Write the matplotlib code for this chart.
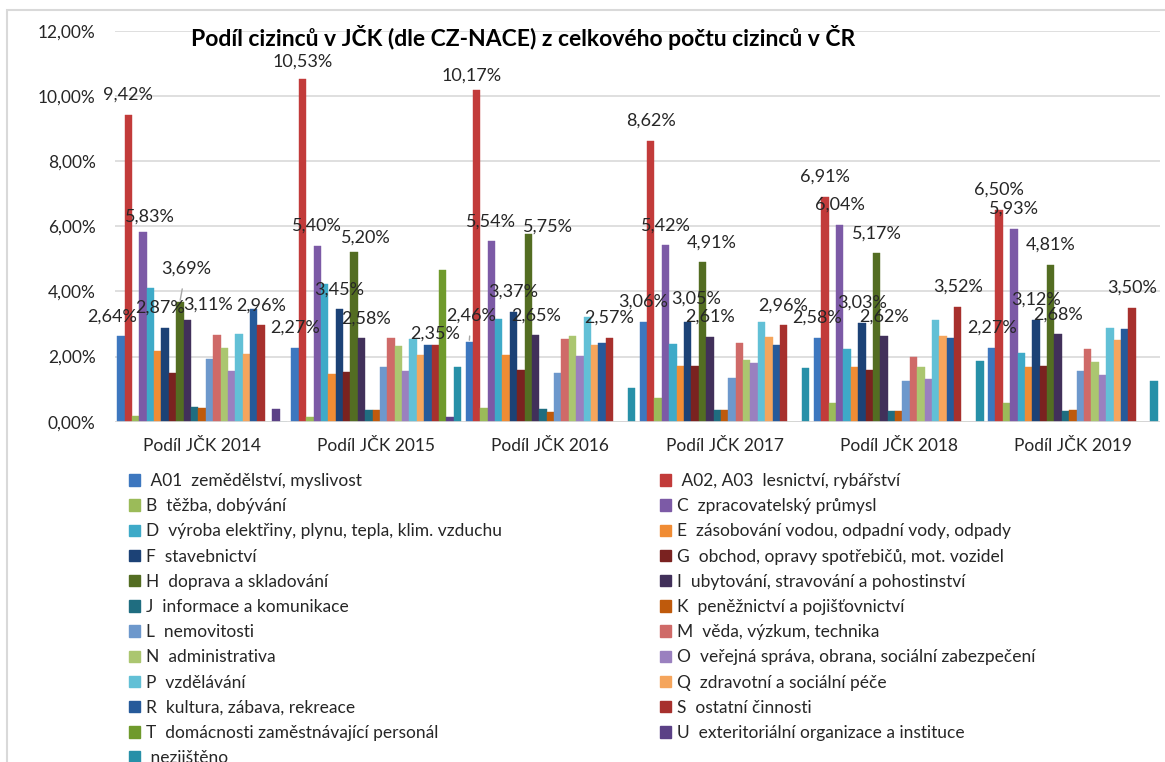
import matplotlib
matplotlib.use("Agg")
import matplotlib.pyplot as plt
from matplotlib.patches import Patch, Rectangle
from matplotlib.ticker import FuncFormatter

plt.rcParams['font.family'] = ['Lato', 'DejaVu Sans']

# categories (x axis) and series (legend)
years = ["Podíl JČK 2014", "Podíl JČK 2015", "Podíl JČK 2016",
         "Podíl JČK 2017", "Podíl JČK 2018", "Podíl JČK 2019"]

codes = ["A01", "A02", "B", "C", "D", "E", "F", "G", "H", "I", "J", "K",
         "L", "M", "N", "O", "P", "Q", "R", "S", "T", "U", "nez"]

names = [" A01  zemědělství, myslivost",
         " A02, A03  lesnictví, rybářství",
         "B  těžba, dobývání",
         "C  zpracovatelský průmysl",
         "D  výroba elektřiny, plynu, tepla, klim. vzduchu",
         "E  zásobování vodou, odpadní vody, odpady",
         "F  stavebnictví",
         "G  obchod, opravy spotřebičů, mot. vozidel",
         "H  doprava a skladování",
         "I  ubytování, stravování a pohostinství",
         "J  informace a komunikace",
         "K  peněžnictví a pojišťovnictví",
         "L  nemovitosti",
         "M  věda, výzkum, technika",
         "N  administrativa",
         "O  veřejná správa, obrana, sociální zabezpečení",
         "P  vzdělávání",
         "Q  zdravotní a sociální péče",
         "R  kultura, zábava, rekreace",
         "S  ostatní činnosti",
         "T  domácnosti zaměstnávající personál",
         "U  exteritoriální organizace a instituce",
         " nezjištěno"]

# shares in %, 2014..2019
A01 = [2.64, 2.27, 2.46, 3.06, 2.58, 2.27]
A02 = [9.42, 10.53, 10.17, 8.62, 6.91, 6.50]
B = [0.19, 0.15, 0.42, 0.73, 0.56, 0.56]
C = [5.83, 5.40, 5.54, 5.42, 6.04, 5.93]
D = [4.10, 4.24, 3.16, 2.39, 2.24, 2.11]
E = [2.16, 1.48, 2.06, 1.72, 1.67, 1.67]
F = [2.87, 3.45, 3.37, 3.05, 3.03, 3.12]
G = [1.50, 1.54, 1.60, 1.72, 1.60, 1.71]
H = [3.69, 5.20, 5.75, 4.91, 5.17, 4.81]
I = [3.11, 2.58, 2.65, 2.61, 2.62, 2.68]
J = [0.46, 0.37, 0.39, 0.35, 0.32, 0.32]
K = [0.42, 0.37, 0.30, 0.35, 0.32, 0.35]
L = [1.93, 1.68, 1.50, 1.35, 1.25, 1.57]
M = [2.66, 2.56, 2.55, 2.42, 2.00, 2.22]
N = [2.27, 2.32, 2.63, 1.88, 1.68, 1.83]
O = [1.57, 1.57, 2.03, 1.81, 1.32, 1.42]
P = [2.70, 2.54, 3.22, 3.05, 3.12, 2.88]
Q = [2.09, 2.06, 2.35, 2.59, 2.63, 2.51]
R = [3.46, 2.37, 2.42, 2.34, 2.56, 2.85]
S = [2.96, 2.35, 2.57, 2.96, 3.52, 3.50]
T = [0, 4.65, 0, 0, 0, 0]
U = [0.39, 0.15, 0, 0, 0, 0]
nez = [0, 1.68, 1.04, 1.64, 1.87, 1.24]

series = [A01, A02, B, C, D, E, F, G, H, I, J, K, L, M, N, O, P, Q, R, S, T, U, nez]

colors = ["#3d77bf", "#c23b3a", "#9bbb59", "#7c5aa6", "#3eaac8", "#f08c34",
          "#1c4276", "#7a2220", "#536d22", "#41305a", "#1f6d80", "#bf5a0c",
          "#6d98cc", "#cf6a68", "#abc670", "#9a80bf", "#62c0d6", "#f5a55c",
          "#265a9a", "#a7302d", "#6f9a2c", "#5b4186", "#2790a8"]

# only these series carry data labels
labelled = ["A01", "A02", "C", "F", "H", "I", "S"]
# manual label nudges (pixels), default is straight above the bar
nudge = {(0, "A01"): (-9, 19), (0, "C"): (7, 15), (0, "F"): (-5, 21),
         (0, "H"): (6, 33), (0, "I"): (21, 16),
         (1, "A02"): (0, 17), (1, "H"): (12, 15), (1, "I"): (5, 19), (1, "S"): (0, 12),
         (2, "A01"): (2, 26), (2, "A02"): (-5, 15), (2, "H"): (20, 8),
         (3, "F"): (8, 24), (3, "H"): (9, 19)}
leader = [(0, "H"), (2, "A01")]

W, Hh = 1165, 762
fig = plt.figure(figsize=(W / 100, Hh / 100), dpi=100)
ax = fig.add_axes([115 / W, 1 - 421.7 / Hh, 1045 / W, (421.7 - 30.9) / Hh])

n = len(series)
bw = 7.38 / 174.17
for k, vals in enumerate(series):
    xs = [g + (k - (n - 1) / 2) * bw for g in range(len(years))]
    bars = ax.bar(xs, vals, width=bw, color=colors[k], edgecolor=colors[k],
                  linewidth=0.3, zorder=3)
    if codes[k] in labelled:
        for g, (bar, v) in enumerate(zip(bars, vals)):
            dx, dy = nudge.get((g, codes[k]), (0, 20))
            txt = f"{v:.2f}%".replace(".", ",")
            xy = (bar.get_x() + bar.get_width() / 2, v)
            if (g, codes[k]) in leader:
                ax.annotate(txt, xy, xytext=(dx, dy), textcoords="offset pixels",
                            ha="center", va="center", fontsize=13, color="#262626",
                            arrowprops=dict(arrowstyle="-", color="#a6a6a6", lw=1,
                                            shrinkA=7, shrinkB=1), zorder=5)
            else:
                ax.annotate(txt, xy, xytext=(dx, dy), textcoords="offset pixels",
                            ha="center", va="center", fontsize=13, color="#262626",
                            zorder=5)

ax.set_xlim(-0.5, len(years) - 0.5)
ax.set_ylim(0, 12)
ax.set_yticks(range(0, 13, 2))
ax.yaxis.set_major_formatter(FuncFormatter(lambda v, p: f"{v:.2f}%".replace(".", ",")))
ax.set_xticks(range(len(years)))
ax.set_xticklabels(years)
ax.tick_params(axis="y", length=0, pad=14, labelsize=12.5, labelcolor="#262626")
ax.tick_params(axis="x", length=0, pad=12, labelsize=12.5, labelcolor="#262626")
ax.grid(axis="y", color="#d9d9d9", linewidth=1.2, zorder=0)
for s in ax.spines.values():
    s.set_visible(False)
ax.axhline(0, color="#d9d9d9", linewidth=1.2, zorder=4)

fig.text(523 / W, 1 - 38 / Hh, "Podíl cizinců v JČK (dle CZ-NACE) z celkového počtu cizinců v ČR",
         ha="center", va="center", fontsize=16.5, fontweight="bold", color="#000000")

# outer chart frame
fig.patches.append(Rectangle((7 / W, -0.1), 1.2, 1.1 - 10 / Hh, transform=fig.transFigure,
                             fill=False, edgecolor="#d9d9d9", linewidth=1.5))

# legend in two columns, row-major order like the original
handles = [Patch(facecolor=colors[k], edgecolor=colors[k]) for k in range(n)]
left = list(range(0, n, 2))
right = list(range(1, n, 2))
opts = dict(frameon=False, fontsize=12.5, loc="upper left", borderpad=0, borderaxespad=0,
            handlelength=0.62, handleheight=0.62, handletextpad=0.35, labelspacing=0.53,
            labelcolor="#262626")
fig.legend([handles[k] for k in left], [names[k] for k in left],
           bbox_to_anchor=(129 / W, 1 - 473 / Hh), **opts)
fig.legend([handles[k] for k in right], [names[k] for k in right],
           bbox_to_anchor=(660 / W, 1 - 473 / Hh), **opts)

fig.savefig("out.png", dpi=100)
